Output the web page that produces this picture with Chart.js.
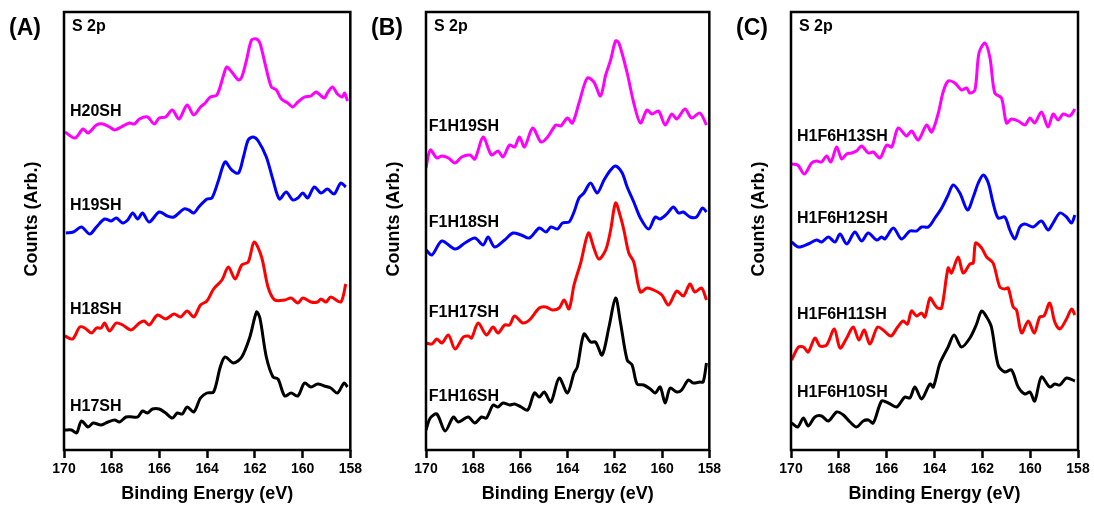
<!DOCTYPE html>
<html>
<head>
<meta charset="utf-8">
<script src="https://cdn.jsdelivr.net/npm/chart.js@4/dist/chart.umd.min.js"></script>
<style>
  html, body { margin: 0; padding: 0; background: #fff; }
  body { width: 1094px; height: 506px; position: relative; overflow: hidden; }
  canvas { position: absolute; top: 0; }
  #panelA { left: 0; }
  #panelB { left: 362px; }
  #panelC { left: 727px; }
</style>
</head>
<body>
<canvas id="panelA" width="365" height="506"></canvas>
<canvas id="panelB" width="362" height="506"></canvas>
<canvas id="panelC" width="367" height="506"></canvas>
<script>
// x tick labels (binding energy, eV)
const energyTicks = [170, 168, 166, 164, 162, 160, 158];

// Panel A  [binding energy, counts]
const h20sh = [[169.96,318],[169.54,312],[169.20,321],[168.99,317],[168.64,325],[168.37,326],[168.09,323],[167.88,320],[167.61,323],[167.26,327],[167.05,326],[166.84,331],[166.50,333],[166.22,326],[166.01,332],[165.74,333],[165.46,340],[165.18,331],[164.84,345],[164.56,335],[164.28,343],[164.08,347],[163.87,353],[163.59,355],[163.31,375],[163.18,383],[162.97,378],[162.69,370],[162.55,373],[162.35,390],[162.14,410],[161.93,411],[161.79,407],[161.58,387],[161.31,363],[161.10,360],[160.89,351],[160.62,347],[160.41,343],[160.20,348],[159.92,353],[159.65,354],[159.44,358],[159.09,352],[158.96,357],[158.75,363],[158.54,356],[158.33,353],[158.24,357],[158.12,349]];
const h19sh = [[169.92,217],[169.61,218],[169.27,223],[168.92,216],[168.64,223],[168.30,231],[168.02,229],[167.81,232],[167.54,227],[167.33,230],[167.12,237],[166.91,231],[166.71,237],[166.43,228],[166.01,238],[165.67,234],[165.39,233],[164.98,241],[164.77,240],[164.56,237],[164.35,243],[164.01,251],[163.80,252],[163.52,270],[163.25,288],[162.97,280],[162.69,277],[162.48,293],[162.28,310],[162.07,313],[161.86,309],[161.52,293],[161.24,270],[160.97,251],[160.69,258],[160.41,250],[160.20,252],[159.99,257],[159.79,252],[159.51,263],[159.23,257],[158.96,261],[158.68,256],[158.40,267],[158.19,263]];
const h18sh = [[169.96,114],[169.64,111],[169.34,123],[169.13,122],[168.85,117],[168.64,122],[168.44,122],[168.30,127],[168.09,119],[167.81,127],[167.54,125],[167.19,120],[166.84,127],[166.64,129],[166.43,125],[166.08,135],[165.74,131],[165.39,136],[165.11,133],[164.84,139],[164.56,133],[164.28,145],[164.01,149],[163.73,161],[163.38,170],[163.11,183],[162.83,171],[162.55,185],[162.28,188],[162.03,208],[161.72,193],[161.45,163],[161.17,150],[160.75,150],[160.48,152],[160.20,147],[159.99,152],[159.65,148],[159.37,148],[159.23,151],[159.02,148],[158.82,153],[158.40,148],[158.19,166]];
const h17sh = [[169.96,20],[169.68,20],[169.47,17],[169.27,29],[168.99,23],[168.78,27],[168.44,25],[168.16,28],[167.88,30],[167.67,28],[167.40,33],[167.12,33],[166.91,33],[166.71,39],[166.50,37],[166.29,41],[166.01,41],[165.74,37],[165.46,32],[165.25,37],[165.04,36],[164.84,43],[164.56,38],[164.28,52],[164.01,57],[163.73,58],[163.45,83],[163.25,93],[162.90,87],[162.55,93],[162.21,113],[161.93,138],[161.79,132],[161.52,93],[161.24,73],[161.03,71],[160.75,54],[160.48,57],[160.20,54],[159.92,67],[159.65,63],[159.37,66],[159.09,64],[158.82,62],[158.54,57],[158.26,67],[158.12,63]];

// Panel B
const f1h19sh = [[170.00,282],[169.82,300],[169.54,292],[169.33,294],[169.05,292],[168.77,287],[168.49,293],[168.14,295],[167.93,291],[167.58,313],[167.23,295],[166.95,299],[166.74,293],[166.46,305],[166.25,303],[166.04,313],[165.83,303],[165.48,322],[165.13,308],[164.85,313],[164.50,325],[164.29,324],[164.01,332],[163.80,327],[163.52,347],[163.17,372],[162.89,368],[162.61,354],[162.39,375],[162.18,390],[161.97,409],[161.83,407],[161.48,377],[161.20,347],[160.92,327],[160.64,340],[160.43,336],[160.15,339],[159.87,325],[159.59,336],[159.38,331],[159.03,341],[158.75,332],[158.40,337],[158.12,325]];
const f1h18sh = [[170.00,200],[169.75,195],[169.33,209],[168.77,201],[168.35,207],[167.93,212],[167.58,205],[167.37,213],[167.09,203],[166.67,210],[166.32,217],[165.97,215],[165.62,212],[165.20,222],[164.92,218],[164.71,223],[164.43,221],[164.22,227],[163.94,228],[163.73,238],[163.52,252],[163.31,257],[163.03,267],[162.75,257],[162.46,270],[162.18,280],[161.97,284],[161.69,277],[161.48,263],[161.20,248],[160.92,232],[160.57,221],[160.29,233],[160.08,231],[159.80,236],[159.52,243],[159.31,237],[159.10,238],[158.82,233],[158.54,233],[158.29,242],[158.12,238]];
const f1h17sh = [[170.00,107],[169.75,106],[169.54,111],[169.33,107],[169.05,115],[168.77,101],[168.42,113],[168.21,114],[168.07,112],[167.79,127],[167.44,115],[167.16,123],[166.95,117],[166.67,125],[166.46,125],[166.25,134],[165.90,127],[165.62,130],[165.20,142],[164.92,143],[164.64,140],[164.36,142],[164.15,150],[163.94,141],[163.73,165],[163.45,187],[163.12,217],[162.89,202],[162.68,191],[162.39,200],[162.18,220],[161.97,247],[161.76,233],[161.62,220],[161.41,197],[161.20,188],[160.92,158],[160.64,162],[160.36,160],[160.01,155],[159.73,145],[159.38,159],[159.10,154],[158.82,166],[158.61,158],[158.33,162],[158.12,150]];
const f1h16sh = [[170.00,20],[169.82,32],[169.54,36],[169.19,19],[168.84,33],[168.63,28],[168.21,33],[167.93,27],[167.65,33],[167.44,32],[167.16,45],[166.95,43],[166.74,47],[166.46,45],[166.25,46],[165.97,43],[165.69,40],[165.41,57],[165.20,53],[164.99,58],[164.71,48],[164.36,72],[164.01,57],[163.73,77],[163.59,83],[163.31,116],[163.03,108],[162.82,108],[162.54,95],[162.25,123],[161.97,152],[161.76,127],[161.48,90],[161.27,85],[161.06,66],[160.78,65],[160.50,61],[160.29,57],[160.08,63],[159.87,47],[159.66,62],[159.38,58],[159.17,60],[158.89,70],[158.68,67],[158.40,68],[158.26,68],[158.12,87]];

// Panel C
const h1f6h13sh = [[169.97,286],[169.72,285],[169.44,276],[169.14,287],[168.93,289],[168.72,288],[168.51,294],[168.33,288],[168.09,303],[167.88,291],[167.67,296],[167.46,297],[167.26,299],[167.05,304],[166.77,297],[166.56,298],[166.28,292],[166.00,305],[165.79,303],[165.52,322],[165.17,314],[164.96,319],[164.68,310],[164.33,325],[164.12,318],[163.84,337],[163.64,358],[163.43,369],[163.15,367],[162.87,360],[162.66,362],[162.52,357],[162.31,360],[162.14,397],[161.89,407],[161.68,392],[161.48,357],[161.20,352],[160.99,327],[160.78,331],[160.50,329],[160.22,325],[160.01,332],[159.81,327],[159.53,338],[159.25,323],[159.04,336],[158.83,330],[158.62,336],[158.34,334],[158.13,341]];
const h1f6h12sh = [[169.97,208],[169.69,203],[169.28,206],[168.93,210],[168.72,208],[168.44,213],[168.16,208],[167.95,216],[167.67,206],[167.33,218],[167.05,209],[166.77,217],[166.42,210],[166.21,213],[166.07,211],[165.72,222],[165.38,211],[165.03,219],[164.75,219],[164.54,223],[164.26,223],[163.98,232],[163.70,242],[163.43,255],[163.22,265],[162.94,257],[162.62,240],[162.38,253],[162.17,267],[161.96,275],[161.75,267],[161.55,247],[161.34,232],[161.06,233],[160.85,220],[160.64,211],[160.43,223],[160.22,226],[159.87,223],[159.53,229],[159.25,220],[159.04,227],[158.76,237],[158.48,233],[158.27,227],[158.13,235]];
const h1f6h11sh = [[169.97,90],[169.69,103],[169.48,103],[169.28,98],[169.00,112],[168.79,104],[168.51,105],[168.19,121],[167.95,102],[167.67,112],[167.40,123],[167.16,110],[166.94,120],[166.70,106],[166.38,123],[166.10,119],[165.82,114],[165.54,123],[165.31,129],[165.13,126],[164.96,139],[164.75,134],[164.54,137],[164.40,133],[164.19,152],[164.01,146],[163.87,142],[163.70,142],[163.43,182],[163.29,177],[163.01,193],[162.80,177],[162.52,186],[162.38,187],[162.28,207],[162.03,202],[161.82,193],[161.55,187],[161.27,163],[161.06,161],[160.92,162],[160.71,143],[160.57,140],[160.36,117],[160.08,129],[159.83,117],[159.60,133],[159.42,134],[159.18,147],[158.97,128],[158.76,121],[158.48,131],[158.27,141],[158.13,135]];
const h1f6h10sh = [[169.97,27],[169.72,23],[169.48,32],[169.28,24],[169.00,33],[168.72,34],[168.44,29],[168.09,38],[167.81,35],[167.53,28],[167.26,23],[166.98,29],[166.77,30],[166.56,27],[166.21,49],[165.93,47],[165.58,43],[165.24,53],[165.03,52],[164.82,63],[164.54,51],[164.19,66],[164.05,63],[163.77,87],[163.43,103],[163.18,115],[162.87,103],[162.52,112],[162.24,126],[162.03,139],[161.82,133],[161.62,123],[161.34,85],[161.06,78],[160.78,80],[160.50,63],[160.22,56],[160.01,58],[159.81,49],[159.53,73],[159.18,63],[158.97,66],[158.76,65],[158.48,72],[158.13,69]];

const FONT = "'Liberation Sans', Arial, Helvetica, sans-serif";
const seriesColors = ['#ff00ff', '#0000ff', '#ff0000', '#000000'];

// frame, panel letter, y title, S 2p tag and curve names
const annotate = {
  id: 'annotate',
  afterDraw(chart, args, opts) {
    const { ctx, chartArea: a, scales: { x, y } } = chart;
    ctx.save();
    ctx.strokeStyle = '#000';
    ctx.lineWidth = 2.5;
    ctx.strokeRect(a.left, a.top, a.right - a.left, a.bottom - a.top);

    ctx.fillStyle = '#000';
    ctx.textBaseline = 'middle';
    ctx.textAlign = 'left';
    ctx.font = 'bold 23px ' + FONT;
    ctx.fillText(opts.letter, a.left - 55, 29);
    ctx.font = 'bold 16px ' + FONT;
    ctx.fillText('S 2p', a.left + 8, a.top + 15);
    opts.names.forEach((n, i) => {
      ctx.fillText(n, x.getPixelForValue(opts.nameX), y.getPixelForValue(opts.nameY[i]));
    });

    // y axis title
    ctx.translate(a.left - 32, 219);
    ctx.rotate(-Math.PI / 2);
    ctx.textAlign = 'center';
    ctx.font = 'bold 18px ' + FONT;
    ctx.fillText('Counts (Arb.)', 0, 0);
    ctx.restore();
  }
};

function makePanel(id, letter, names, series, nameX, nameY, padRight) {
  new Chart(document.getElementById(id), {
    type: 'line',
    data: {
      datasets: series.map((s, i) => ({
        label: names[i],
        data: s.map(p => ({ x: p[0], y: p[1] })),
        borderColor: seriesColors[i],
        borderWidth: 3,
        pointRadius: 0,
        tension: 0.3,
        fill: false
      }))
    },
    options: {
      responsive: false,
      animation: false,
      layout: { padding: { top: 12, right: padRight, left: 0, bottom: 0 } },
      plugins: {
        legend: { display: false },
        tooltip: { enabled: false },
        annotate: { letter, names, nameX, nameY }
      },
      scales: {
        x: {
          type: 'linear',
          reverse: true,
          min: 158,
          max: 170,
          afterBuildTicks: s => { s.ticks = energyTicks.map(v => ({ value: v })); },
          afterFit: s => { s.height = 56; },
          border: { display: false },
          grid: { drawOnChartArea: false, drawTicks: true, tickLength: 8, tickWidth: 2.5, tickColor: '#000' },
          ticks: { color: '#000', padding: 3, maxRotation: 0, font: { family: FONT, size: 14, weight: 'bold' } },
          title: { display: true, text: 'Binding Energy (eV)', color: '#000', padding: { top: 0, bottom: 1 }, font: { family: FONT, size: 18, weight: 'bold' } }
        },
        y: {
          min: 0,
          max: 438,
          afterFit: s => { s.width = 64; },
          border: { display: false },
          grid: { display: false },
          ticks: { display: false },
          title: { display: false }
        }
      }
    },
    plugins: [annotate]
  });
}

makePanel('panelA', '(A)', ['H20SH', 'H19SH', 'H18SH', 'H17SH'],
  [h20sh, h19sh, h18sh, h17sh], 169.75, [338, 244, 140, 43], 12);
makePanel('panelB', '(B)', ['F1H19SH', 'F1H18SH', 'F1H17SH', 'F1H16SH'],
  [f1h19sh, f1h18sh, f1h17sh, f1h16sh], 169.88, [323, 227, 137, 53], 13);
makePanel('panelC', '(C)', ['H1F6H13SH', 'H1F6H12SH', 'H1F6H11SH', 'H1F6H10SH'],
  [h1f6h13sh, h1f6h12sh, h1f6h11sh, h1f6h10sh], 169.75, [313, 231, 135, 57], 16);
</script>
</body>
</html>
